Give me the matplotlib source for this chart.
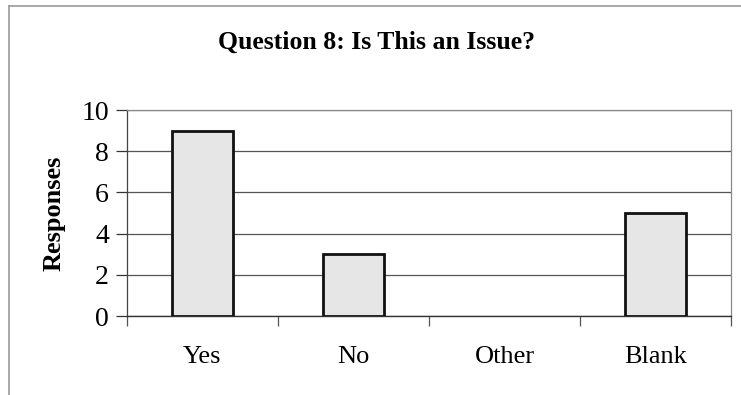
import matplotlib
matplotlib.use("Agg")
import matplotlib.pyplot as plt
from matplotlib.lines import Line2D

categories = ["Yes", "No", "Other", "Blank"]
responses = [9, 3, 0, 5]
y_ticks = [0, 2, 4, 6, 8, 10]

plt.rcParams["font.family"] = ["Liberation Serif", "DejaVu Serif"]

fig = plt.figure(figsize=(7.41, 3.95), dpi=100)
W, H = 741, 395
ax = fig.add_axes([127 / W, 1 - 316 / H, (731 - 127) / W, (316 - 110) / H])

x = range(len(categories))
bars = ax.bar(x, responses, width=0.41, color="#e6e6e6", edgecolor="#111111",
              linewidth=2.0, zorder=3)
# an empty category leaves no outline on the axis
for b, v in zip(bars, responses):
    if v == 0:
        b.set_visible(False)

ax.set_xlim(-0.5, len(categories) - 0.5)
ax.set_ylim(0, 10)
ax.set_yticks(y_ticks)
ax.set_yticklabels([str(v) for v in y_ticks], fontsize=20)
ax.yaxis.grid(True, color="#555555", linewidth=0.9, zorder=0)

# category labels sit between boundary tick marks
ax.set_xticks([i + 0.5 for i in range(len(categories) - 1)] + [-0.5, len(categories) - 0.5])
ax.set_xticklabels([])
ax.tick_params(axis="x", direction="out", length=7, width=0.9, color="#555555")
ax.tick_params(axis="y", direction="out", length=8, width=0.9, color="#333333", pad=5)
for i, c in enumerate(categories):
    ax.text(i, -1.45, c, ha="center", va="top", fontsize=19,
            transform=ax.transData)

for side in ["top", "right"]:
    ax.spines[side].set_color("#888888")
    ax.spines[side].set_linewidth(0.9)
ax.spines["left"].set_color("#444444")
ax.spines["bottom"].set_color("#333333")
ax.spines["left"].set_linewidth(0.9)
ax.spines["bottom"].set_linewidth(1.0)

fig.text(54 / W, 1 - 213 / H, "Responses", rotation=90, ha="center",
         va="center", fontsize=19, fontweight="bold")

fig.text(377 / W, 1 - 42 / H, "Question 8: Is This an Issue?", ha="center",
         va="center", fontsize=18.5, fontweight="bold")

# outer chart frame
fig.add_artist(Line2D([9 / W, 9 / W], [1 - 6 / H, 0], transform=fig.transFigure,
                      color="#999999", linewidth=1.2))
fig.add_artist(Line2D([9 / W, 1], [1 - 6 / H, 1 - 6 / H], transform=fig.transFigure,
                      color="#999999", linewidth=1.2))

fig.savefig("out.png", dpi=100)
